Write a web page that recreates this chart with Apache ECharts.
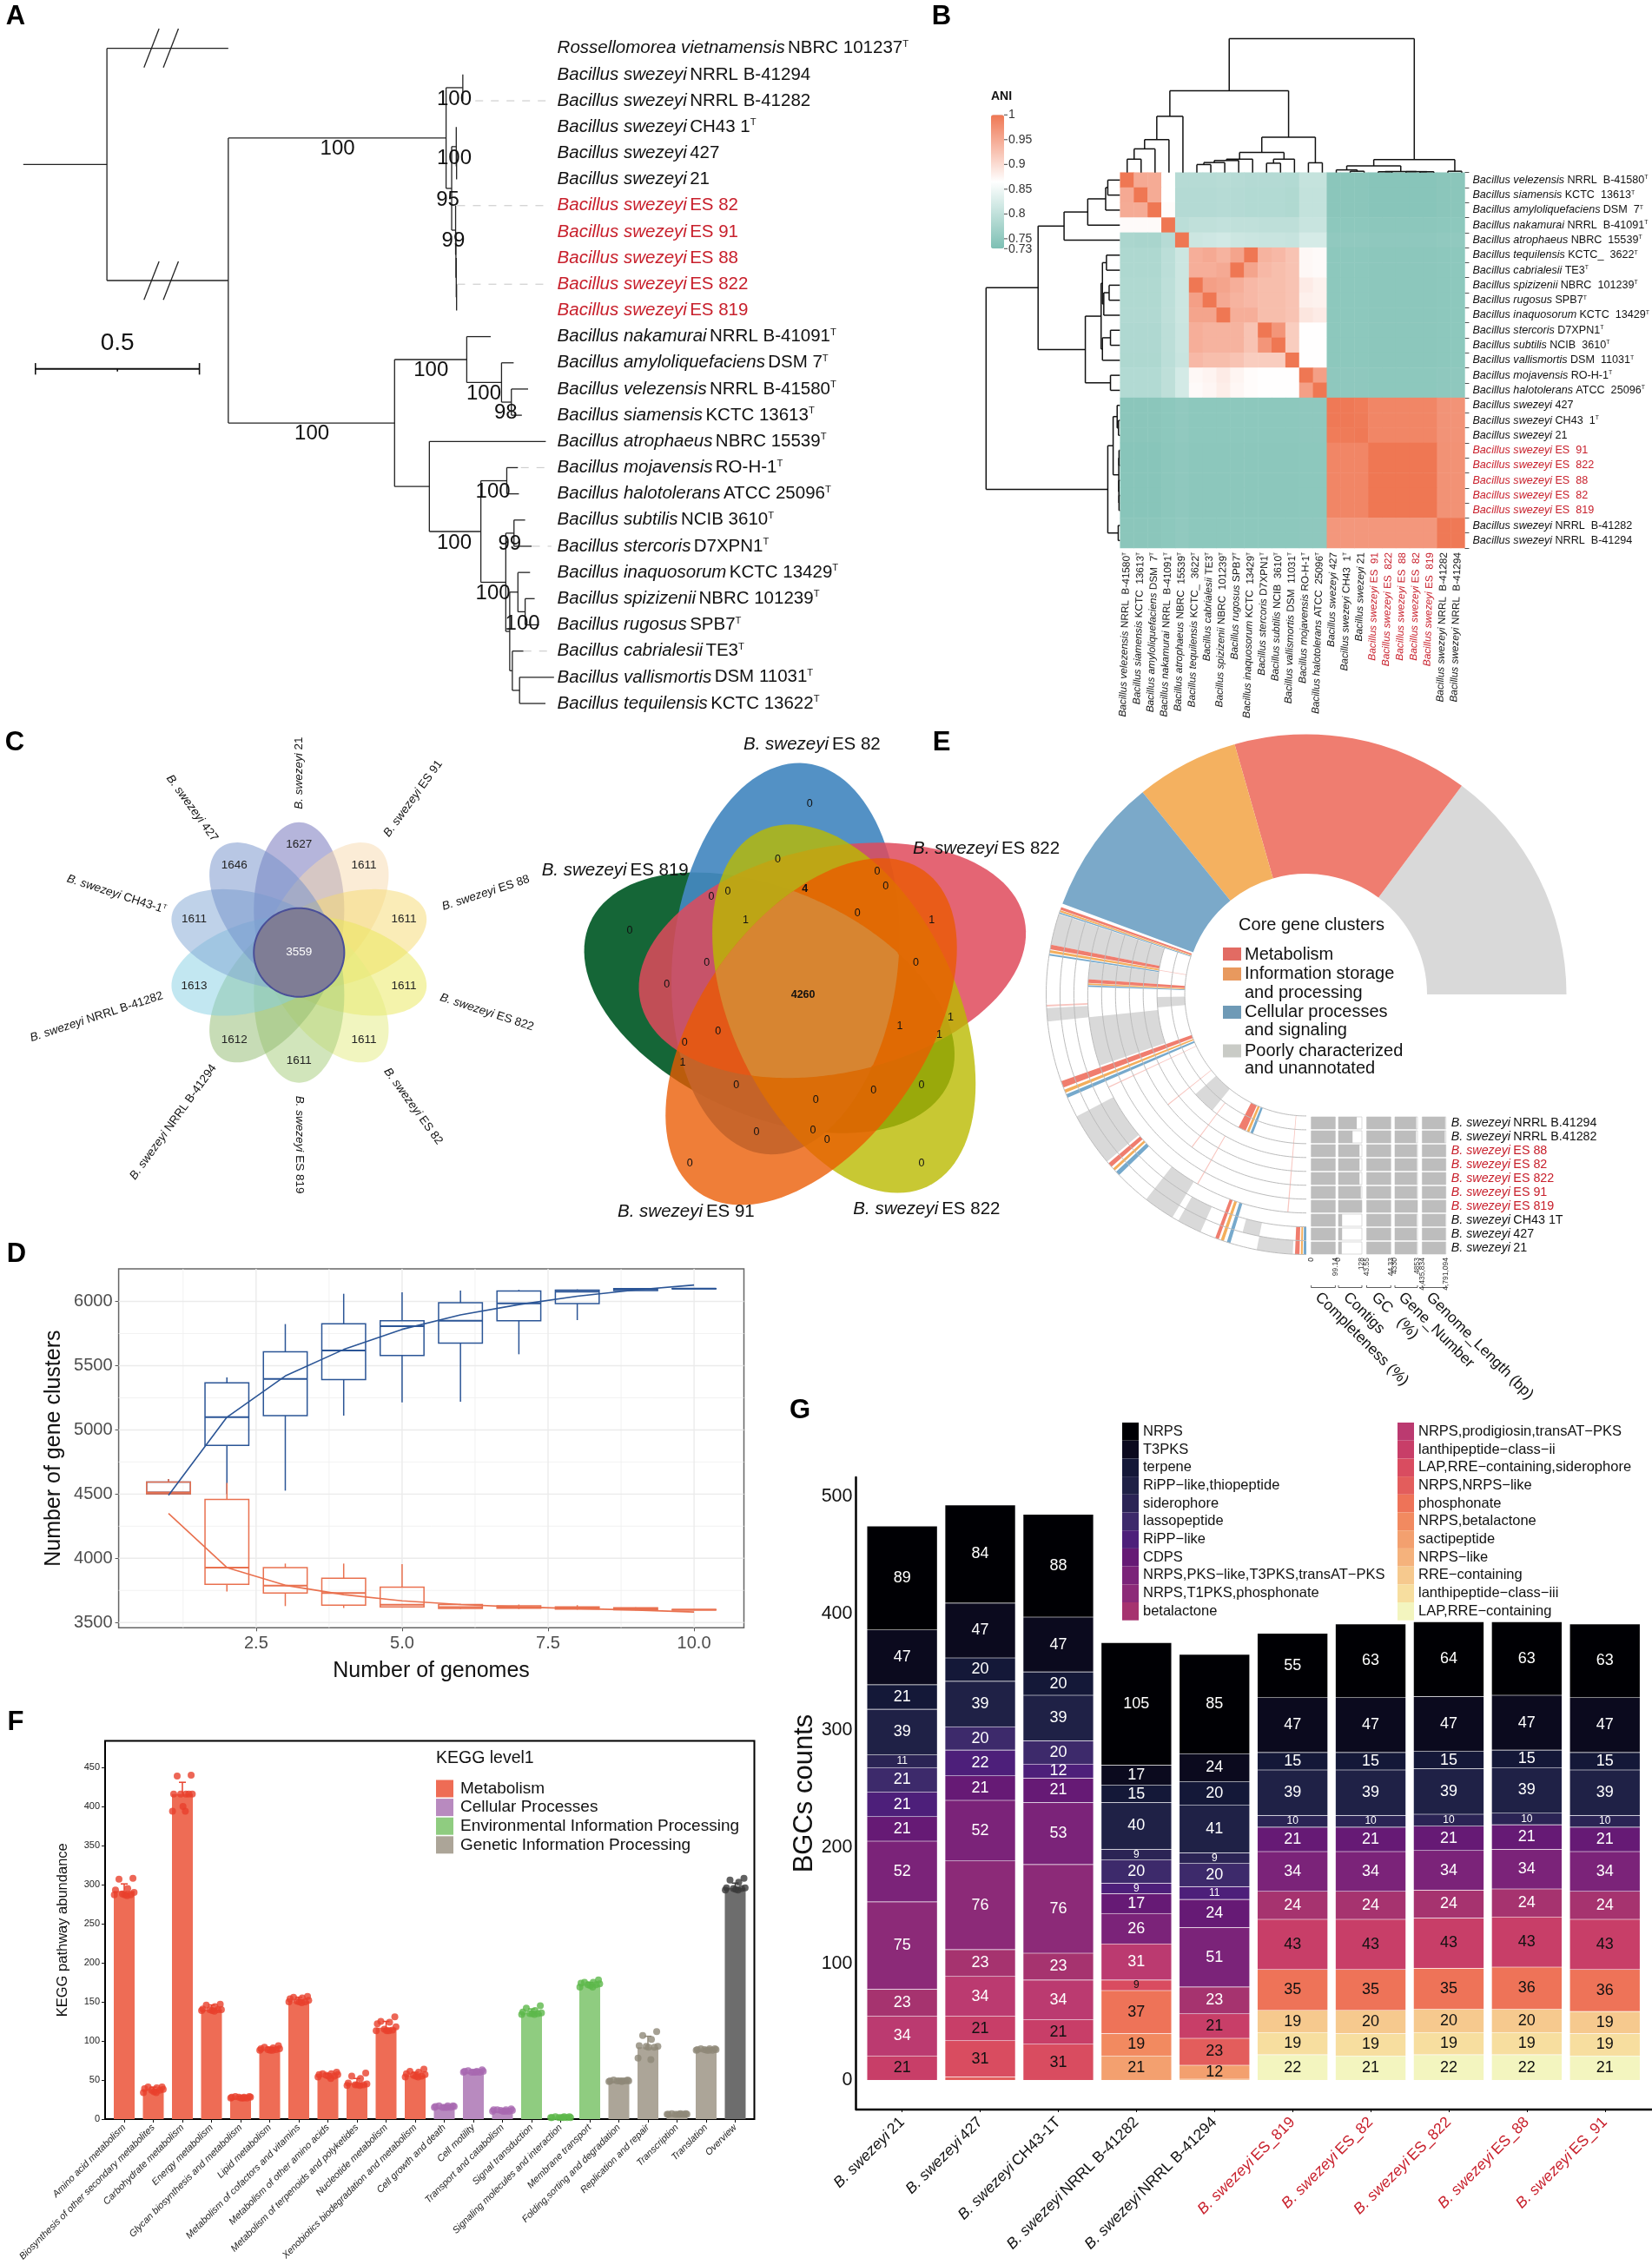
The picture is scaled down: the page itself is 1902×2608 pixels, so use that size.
<!DOCTYPE html>
<html><head><meta charset="utf-8">
<style>html,body{margin:0;padding:0;background:#fff}#c{width:1902px;height:2608px}</style>
<script src="https://cdn.jsdelivr.net/npm/echarts@6/dist/echarts.min.js"></script>
</head><body><div id="c"></div>
<script>
const FONT='Liberation Sans';
/* ---------- A: phylogeny (branch lengths in substitution units) ---------- */
const leafLabels=['Rossellomorea vietnamensis|NBRC 101237|T','Bacillus swezeyi|NRRL B-41294','Bacillus swezeyi|NRRL B-41282','Bacillus swezeyi|CH43 1|T','Bacillus swezeyi|427','Bacillus swezeyi|21','Bacillus swezeyi|ES 82','Bacillus swezeyi|ES 91','Bacillus swezeyi|ES 88','Bacillus swezeyi|ES 822','Bacillus swezeyi|ES 819','Bacillus nakamurai|NRRL B-41091|T','Bacillus amyloliquefaciens|DSM 7|T','Bacillus velezensis|NRRL B-41580|T','Bacillus siamensis|KCTC 13613|T','Bacillus atrophaeus|NBRC 15539|T','Bacillus mojavensis|RO-H-1|T','Bacillus halotolerans|ATCC 25096|T','Bacillus subtilis|NCIB 3610|T','Bacillus stercoris|D7XPN1|T','Bacillus inaquosorum|KCTC 13429|T','Bacillus spizizenii|NBRC 101239|T','Bacillus rugosus|SPB7|T','Bacillus cabrialesii|TE3|T','Bacillus vallismortis|DSM 11031|T','Bacillus tequilensis|KCTC 13622|T'];
const phyloTree=[.255,[.37],[.37,
  [.664,[.051,[0],[0]],[.017,[.014,[0],[.001,[0],[0]]],[.012,[0],[.001,[0],[.001,[0],[.001,[0],[0]]]]]]],
  [.507,
    [.22,[.073],[.106,[.037],[.03,[.051],[.032]]]],
    [.106,[.355],[.157,[.079,[.034],[.037]],[.076,[.025,[.034],[.054]],[.012,[.025,[.037],[.022,[.029],[.042]]],[.008,[.034],[.022,[.105],[.079]]]]]]]
  ]]];
const bootstrap=[['100',1.314,1.94],['100',1.314,4.19],['95',1.294,5.79],['99',1.311,7.35],['100',.958,3.85],['100',1.243,12.29],['100',.88,14.72],['100',1.404,13.19],['98',1.471,13.92],['100',1.432,16.92],['100',1.314,18.87],['99',1.483,18.93],['100',1.432,20.79],['100',1.522,21.95]];
const dashedLeaders=[[2,1.378],[6,1.323],[9,1.323],[16,1.517],[19,1.551],[23,1.525]];
const breakMarks=[[.368,.73,.414,-.75],[.427,.73,.473,-.75],[.368,9.6,.414,8.13],[.427,9.6,.473,8.13]];
/* ---------- B: ANI heatmap ---------- */
const aniNames=['Bacillus velezensis|NRRL  B-41580|T','Bacillus siamensis|KCTC  13613|T','Bacillus amyloliquefaciens|DSM  7|T','Bacillus nakamurai|NRRL  B-41091|T','Bacillus atrophaeus|NBRC  15539|T','Bacillus tequilensis|KCTC_  3622|T','Bacillus cabrialesii|TE3|T','Bacillus spizizenii|NBRC  101239|T','Bacillus rugosus|SPB7|T','Bacillus inaquosorum|KCTC  13429|T','Bacillus stercoris|D7XPN1|T','Bacillus subtilis|NCIB  3610|T','Bacillus vallismortis|DSM  11031|T','Bacillus mojavensis|RO-H-1|T','Bacillus halotolerans|ATCC  25096|T','Bacillus swezeyi|427','Bacillus swezeyi|CH43  1|T','Bacillus swezeyi|21','Bacillus swezeyi|ES  91','Bacillus swezeyi|ES  822','Bacillus swezeyi|ES  88','Bacillus swezeyi|ES  82','Bacillus swezeyi|ES  819','Bacillus swezeyi|NRRL  B-41282','Bacillus swezeyi|NRRL  B-41294'];
const aniRows=[
[1000,950,948,865,790,790,790,792,790,788,788,788,786,805,805,745,745,745,742,742,742,742,742,745,745],
[950,1000,948,865,788,788,788,790,788,786,786,786,784,803,803,745,745,745,742,742,742,742,742,745,745],
[948,948,1000,868,788,788,788,790,788,786,786,786,784,803,803,745,745,745,742,742,742,742,742,745,745],
[870,870,870,1000,795,800,800,802,800,800,798,798,798,808,808,748,748,748,746,746,746,746,746,748,748],
[778,776,776,790,1000,812,815,818,812,810,808,808,806,822,822,752,752,752,750,750,750,750,750,752,752],
[782,782,782,795,812,945,950,940,955,1000,940,935,925,872,870,748,748,748,746,746,746,746,746,748,748],
[782,782,782,795,812,945,945,950,1000,955,935,930,925,872,870,748,748,748,746,746,746,746,746,748,748],
[784,784,784,797,812,1000,960,955,945,935,930,930,925,885,878,748,748,748,746,746,746,746,746,748,748],
[784,784,784,797,812,960,1000,950,940,935,930,930,925,880,878,748,748,748,746,746,746,746,746,748,748],
[785,785,785,798,812,955,955,1000,945,945,930,930,925,890,885,748,748,748,746,746,746,746,746,748,748],
[783,783,783,796,810,945,940,940,940,925,1000,970,915,866,866,748,748,748,746,746,746,746,746,748,748],
[783,783,783,796,810,945,940,940,940,925,970,1000,915,866,866,748,748,748,746,746,746,746,746,748,748],
[782,782,782,795,808,935,930,930,925,915,915,915,1000,866,866,748,748,748,746,746,746,746,746,748,748],
[786,786,786,798,820,872,876,885,875,868,866,866,866,1000,960,750,750,750,748,748,748,748,748,750,750],
[786,786,786,798,820,870,874,882,873,868,866,866,866,960,1000,750,750,750,748,748,748,748,748,750,750],
[745,745,745,748,752,748,748,748,748,748,748,748,748,750,750,998,998,995,985,985,985,985,985,972,972],
[745,745,745,748,752,748,748,748,748,748,748,748,748,750,750,998,998,996,985,985,985,985,985,972,972],
[745,745,745,748,752,748,748,748,748,748,748,748,748,750,750,995,996,998,985,985,985,985,985,972,972],
[742,742,742,746,750,746,746,746,746,746,746,746,746,748,748,985,985,985,1000,1000,1000,1000,1000,973,973],
[742,742,742,746,750,746,746,746,746,746,746,746,746,748,748,985,985,985,1000,1000,1000,1000,1000,973,973],
[742,742,742,746,750,746,746,746,746,746,746,746,746,748,748,985,985,985,1000,1000,1000,1000,1000,973,973],
[742,742,742,746,750,746,746,746,746,746,746,746,746,748,748,985,985,985,1000,1000,1000,1000,1000,973,973],
[742,742,742,746,750,746,746,746,746,746,746,746,746,748,748,985,985,985,1000,1000,1000,1000,1000,973,973],
[745,745,745,748,752,748,748,748,748,748,748,748,748,750,750,968,968,968,968,968,968,968,968,998,998],
[745,745,745,748,752,748,748,748,748,748,748,748,748,750,750,968,968,968,968,968,968,968,968,998,998]];
const colTree=[1,[.611,[.42,[.246,[.177,[.1,0,1],2],3],4],[.264,[.15,[.1,[.09,[.075,[.06,5,6],7],8],9],[.1,[.07,10,11],12]],[.073,13,14]]],[.097,[.05,[.02,15,[.01,16,17]],[.008,[.006,18,19],[.007,20,[.006,21,22]]]],[.01,23,24]]];
const rowTree=[1,[.611,[.417,[.24,[.106,[.09,0,1],2],3],4],[.258,[.14,[.13,[.1,5,6],[.12,[.08,7,8],9]],[.13,[.07,10,11],12]],[.07,13,14]]],[.09,[.05,[.02,15,[.01,16,17]],[.008,[.006,18,19],[.007,20,[.006,21,22]]]],[.012,23,24]]];
const aniTicks=[1,.95,.9,.85,.8,.75,.73];
/* ---------- C: flower + 5-set Venn ---------- */
const petalNames=['21','ES 91','ES 88','ES 822','ES 82','ES 819','NRRL B-41294','NRRL B-41282','CH43-1','427'];
const petalCounts=[1627,1611,1611,1611,1611,1611,1612,1613,1611,1646];
const petalColors=['#6b6bb8','#f8d9ae','#f5da70','#e9e858','#e4ec80','#a3cc78','#8fb96e','#86cfe3','#7fa5d4','#7190ca'];
const petalLabelRadius=[1.66,1.76,1.78,1.79,1.76,1.78,1.94,1.93,1.74,1.65];
const coreCount=3559;
/* [name, fill, direction of the lobe tip (deg), opacity] */
const vennSets=[['ES 819','#156637',156,1],['ES 82','#4488c0',84,.92],['ES 822','#df4a5c',12,.85],['ES 822','#baba00',-65,.8],['ES 91','#ea5a00',-125,.78]];
const vennNames=[['ES 82','#5a96c8',.009,.527],['ES 822','#e2596a',.38,.305],['ES 819','#156637',-.41,.259],['ES 91','#ee7218',-.259,-.468],['ES 822','#c3c32a',.253,-.462]];
const vennCounts=[[0,.004,.40],[0,-.064,.282],[0,.148,.256],[0,.166,.224],[0,-.205,.202],[0,-.17,.213],[4,-.006,.219],[1,-.132,.152],[0,.106,.168],[1,.264,.152],[0,-.379,.13],[0,-.215,.062],[0,.23,.062],[0,-.3,.016],[4260,-.01,-.007],[1,.196,-.074],[1,.304,-.055],[1,.28,-.092],[0,-.191,-.085],[0,-.262,-.109],[1,-.266,-.15],[0,-.152,-.198],[0,.14,-.21],[0,.242,-.198],[0,.017,-.231],[0,-.109,-.299],[0,.011,-.295],[0,.041,-.315],[0,-.251,-.366],[0,.242,-.366]];
/* ---------- E: core gene clusters ---------- */
const coreSectors=[['Poorly characterized',53.3,'#d9d9d9'],['Metabolism',52.7,'#ef7d70'],['Information storage',23,'#f4b160'],['Cellular processes',30.6,'#7ba9c9'],['accessory',200.4,'transparent']];
const ringColors={g:'#d9d9d9',r:'#f07d6e',o:'#f4ae5c',b:'#76a9cc',p:'#f8c6c0'};
const ringSegments=[[160.4,161,'r',0,10],[161.1,161.5,'o',0,10],[161.6,161.9,'b',0,10],[162,169,'g',2,10],[169,170,'r',2,10],[170.2,170.8,'o',2,10],[171,171.4,'b',2,10],[171.5,176,'g',2,7],[176,177,'r',0,7],[177.1,177.5,'o',0,7],[177.6,178,'b',0,7],[181,185,'g',0,2],[183,186,'g',7,10],[182.3,182.7,'p',7,10],[186,199,'g',2,7],[199.5,201,'r',0,10],[201.5,202.2,'o',0,10],[202.6,203.4,'b',0,10],[208,220,'g',7,10],[220.5,221.5,'r',7,10],[222,222.6,'o',7,10],[223,224,'b',7,10],[222,231,'g',0,2],[243,246,'r',0,2],[246.5,247.5,'o',0,2],[248,249,'b',0,2],[232,239,'g',7,10],[240.5,246,'g',8,10],[249.5,250.3,'r',7,10],[250.8,251.5,'o',7,10],[252.2,253,'b',7,10],[255,259,'g',8,9],[259,267,'g',9,10],[267.5,268.5,'r',8,10],[268.8,269.2,'o',8,10],[269.4,270,'b',8,10],[218.4,218.7,'p',0,4],[233,233.3,'p',1,5],[265,265.3,'p',0,7],[240,240.3,'p',3,7],[170.5,170.8,'p',0,2],[205,205.3,'p',0,7]];
const genomeRows=['B. swezeyi|NRRL B.41294','B. swezeyi|NRRL B.41282','B. swezeyi|ES 88','B. swezeyi|ES 82','B. swezeyi|ES 822','B. swezeyi|ES 91','B. swezeyi|ES 819','B. swezeyi|CH43 1T','B. swezeyi|427','B. swezeyi|21'];
const completeness=[99.14,99.14,99.14,99.14,99.14,99.14,99.14,99.14,99.14,99.14];
const contigs=[100,77,115,115,115,122,128,20,20,18];
const gcPercent=[44.33,44.33,44.33,44.33,44.33,44.33,44.33,44.33,44.33,44.33];
const geneNumber=[4825,4820,4840,4840,4840,4842,4853,4835,4835,4840];
const genomeLength=[4780000,4775000,4791094,4791094,4791094,4791094,4791094,4785000,4788000,4788000];
const tableColumns=[['Completeness (%)',completeness,0,99.14,'0','99.14',1509.6,27.8,1517],['Contigs',contigs,0,128,'0','128',1541,27,1549.4],['GC   (%)',gcPercent,43.55,44.33,'43.55','44.33',1573.5,27.8,1582],['Gene_Number',geneNumber,4330,4853,'4330','4853',1606,26,1613],['Genome_Length (bp)',genomeLength,4435834,4791094,'4,435,834','4,791,094',1637.4,27.3,1645]];
/* ---------- D: pan/core ---------- */
const genomeCounts=[1,2,3,4,5,6,7,8,9,10];
const panBoxes=[[1,4500,4502,4512,4594,4618],[2,4500,4879,5099,5367,5408],[3,4527,5111,5396,5609,5824],[4,5111,5391,5618,5826,6060],[5,5215,5580,5807,5850,6072],[6,5220,5676,5850,5990,6085],[7,5589,5850,5986,6082,6090],[8,5855,5983,6077,6089,6094],[9,6085,6085,6095,6100,6102],[10,6098,6098,6100,6100,6102]];
const coreBoxes=[[1,4500,4502,4512,4594,4618],[2,3742,3797,3928,4459,4587],[3,3628,3729,3787,3928,3959],[4,3613,3635,3729,3845,3959],[5,3615,3621,3638,3775,3954],[6,3605,3610,3620,3640,3645],[7,3605,3612,3620,3630,3640],[8,3600,3605,3610,3622,3635],[9,3595,3600,3605,3615,3618],[10,3598,3598,3600,3601,3602]];
const panCurve=[4490,5099,5420,5626,5783,5896,5976,6041,6090,6128];
const coreCurve=[4350,3928,3790,3717,3669,3640,3621,3609,3597,3582];
/* ---------- F: KEGG ---------- */
const keggPathways=['Amino acid metabolism','Biosynthesis of other secondary metabolites','Carbohydrate metabolism','Energy metabolism','Glycan biosynthesis and metabolism','Lipid metabolism','Metabolism of cofactors and vitamins','Metabolism of other amino acids','Metabolism of terpenoids and polyketides','Nucleotide metabolism','Xenobiotics biodegradation and metabolism','Cell growth and death','Cell motility','Transport and catabolism','Signal transduction','Signaling molecules and interaction','Membrane transport','Folding,sorting and degradation','Replication and repair','Transcription','Translation','Overview'];
const keggGroup=[0,0,0,0,0,0,0,0,0,0,0,1,1,1,2,2,2,3,3,3,3,4];
const keggMeans=[292,38,416,140,27,89,151,55,46,117,56,15,60,10,136,2,172,49,92,6,89,296];
const keggErrTop=[301,41,431,146,29,92,156,58,52,125,60,17,62,12,141,3,175,50,106,7,90,302];
const keggDots=[[308,307,295,293,290,288,287,287,287,286],[41,41,40,39,38,37,37,35,34,34],[440,439,416,416,416,416,416,400,394,394],[147,146,144,141,140,140,140,139,139,138],[29,29,28,28,28,28,27,27,27,27],[94,92,91,90,90,89,89,88,88,88],[157,156,155,154,152,151,150,150,150,149],[60,58,58,57,57,56,55,55,54,52],[59,55,52,46,45,44,44,44,43,43],[131,125,124,122,118,115,114,113,113,113],[64,61,60,58,57,56,55,55,54,54],[17,17,17,16,16,15,15,15,15,15],[63,62,61,61,61,60,60,60,60,60],[13,12,12,12,11,11,10,10,10,10],[145,142,139,137,136,135,135,135,134,134],[3,3,3,2,2,2,2,2,2,2],[178,175,175,174,173,172,172,171,169,169],[50,50,49,49,49,49,49,49,48,48],[112,107,102,94,93,93,92,92,78,76],[7,7,7,6,6,6,6,6,6,6],[90,90,90,89,89,89,88,88,88,88],[308,306,303,296,296,295,295,294,293,293]];
const dotJitter=[.3,-.18,.12,-.3,.34,-.06,.22,.02,-.34,.1];
const keggGroupNames=['Metabolism','Cellular Processes','Environmental Information Processing','Genetic Information Processing','Overview'];
const keggBarColors=['#ee6c55','#b88abf','#8fcc80','#aca598','#6d6d6d'];
const keggDotColors=['#e8402c','#a868b0','#5cb84a','#8f8878','#3a3a3a'];
/* ---------- G: BGCs ---------- */
const bgcGenomes=['21','427','CH43-1T','NRRL B-41282','NRRL B-41294','ES_819','ES_82','ES_822','ES_88','ES_91'];
const bgcTypes=[
['NRPS','#000004',[89,84,88,105,85,55,63,64,63,63]],
['T3PKS','#0b0a1e',[47,47,47,17,24,47,47,47,47,47]],
['terpene','#141838',[21,20,20,15,20,15,15,15,15,15]],
['RiPP\u2212like,thiopeptide','#1f2146',[39,39,39,40,41,39,39,39,39,39]],
['siderophore','#2b2455',[11,0,0,9,9,10,10,10,10,10]],
['lassopeptide','#3d2a6b',[21,20,20,20,20,0,0,0,0,0]],
['RiPP\u2212like','#4d1f7a',[21,22,12,9,11,0,0,0,0,0]],
['CDPS','#661a75',[21,21,21,17,24,21,21,21,21,21]],
['NRPS,PKS\u2212like,T3PKS,transAT\u2212PKS','#7b2379',[52,52,53,26,51,34,34,34,34,34]],
['NRPS,T1PKS,phosphonate','#8c2a78',[75,76,76,0,0,0,0,0,0,0]],
['betalactone','#a6336f',[23,23,23,0,23,24,24,24,24,24]],
['NRPS,prodigiosin,transAT\u2212PKS','#bb3a70',[34,34,34,31,0,0,0,0,0,0]],
['lanthipeptide\u2212class\u2212ii','#c83e68',[21,21,21,0,21,43,43,43,43,43]],
['LAP,RRE\u2212containing,siderophore','#d94c60',[0,31,31,9,0,0,0,0,0,0]],
['NRPS,NRPS\u2212like','#e35d5c',[0,3,0,0,23,0,0,0,0,0]],
['phosphonate','#ee7358',[0,0,0,37,0,35,35,35,36,36]],
['NRPS,betalactone','#f28a60',[0,0,0,19,0,0,0,0,0,0]],
['sactipeptide','#f3a06f',[0,0,0,21,12,0,0,0,0,0]],
['NRPS\u2212like','#f5b27c',[0,0,0,0,1,0,0,0,0,0]],
['RRE\u2212containing','#f6c98e',[0,0,0,0,0,19,20,20,20,19]],
['lanthipeptide\u2212class\u2212iii','#f7de9f',[0,0,0,0,0,19,19,19,19,19]],
['LAP,RRE\u2212containing','#f3f5bf',[0,0,0,0,0,22,21,22,22,21]]];
const RED='#c8202c';

/* ---------- helpers ---------- */
function richFor(size,opts){opts=opts||{};const c=opts.color||'#111';const base={fontFamily:FONT,fontSize:size};
 return {i:{...base,fontStyle:'italic',color:c},n:{...base,color:c},
  ri:{...base,fontStyle:'italic',color:RED},rn:{...base,color:RED},
  s:{fontFamily:FONT,fontSize:size*.55,color:c,verticalAlign:'top'}};}
function fmt(str){const p=str.split('|');const red=/ES/.test(p[1]);
 return (red?`{ri|${p[0]}} {rn|${p[1]}}`:`{i|${p[0]}} {n|${p[1]}}`)+(p[2]?`{s|${p[2]}}`:'');}
const grids=[],xAxes=[],yAxes=[],series=[];
function addGrid(l,t,w,h,extra){grids.push({left:l,top:t,width:w,height:h,containLabel:false,...(extra||{})});return grids.length-1;}
function hid(g,min,max,inv){return {type:'value',gridIndex:g,min,max,inverse:!!inv,show:false,splitLine:{show:false},axisLine:{show:false,onZero:false},axisTick:{show:false},axisLabel:{show:false}};}
function custom(g,n,fn,z){const s={type:'custom',silent:true,clip:false,z:z||2,animation:false,data:Array.from({length:n},()=>[0,0]),renderItem:(p,api)=>fn(p.dataIndex,api)};
 if(g==='polar'){s.coordinateSystem='polar';}else{s.xAxisIndex=g;s.yAxisIndex=g;}series.push(s);return s;}
function lineEl(a,b,c,w,dash){return {type:'line',shape:{x1:a[0],y1:a[1],x2:b[0],y2:b[1]},style:{stroke:c,lineWidth:w,lineDash:dash||null}};}
function txt(x,y,text,o){o=o||{};return {type:'text',x,y,rotation:o.rot||0,style:{text,fill:o.color||'#111',fontFamily:FONT,fontSize:o.size||14,fontWeight:o.weight||'normal',fontStyle:o.style||'normal',align:o.align||'center',verticalAlign:'middle',rich:o.rich}};}

/* ---------- A ---------- */
const gA=addGrid(26.8,55.7,611.8,754.3);
xAxes.push(hid(gA,0,1.62));
yAxes.push({type:'value',gridIndex:gA,min:0,max:25,interval:1,inverse:true,position:'right',axisLine:{show:false,onZero:false},axisTick:{show:false},splitLine:{show:false},
 axisLabel:{margin:3,formatter:v=>fmt(leafLabels[v]),rich:richFor(20.5),hideOverlap:false,showMinLabel:true,showMaxLabel:true}});
const treeSegs=[];let leafCounter=0;
function layoutPhylo(node,x0){const x=x0+node[0];const kids=node.slice(1);let y;
 if(!kids.length){y=leafCounter++;}else{const ys=kids.map(k=>layoutPhylo(k,x));y=(ys[0]+ys[ys.length-1])/2;treeSegs.push([x,ys[0],x,ys[ys.length-1]]);}
 treeSegs.push([x0,y,x,y]);return y;}
layoutPhylo(phyloTree,0);
custom(gA,treeSegs.length,(i,api)=>{const s=treeSegs[i];return lineEl(api.coord([s[0],s[1]]),api.coord([s[2],s[3]]),'#222',1.3);});
custom(gA,dashedLeaders.length,(i,api)=>{const d=dashedLeaders[i];return lineEl(api.coord([d[1],d[0]]),api.coord([1.61,d[0]]),'#cfcfcf',1.2,[9,9]);});
custom(gA,breakMarks.length,(i,api)=>{const d=breakMarks[i];return lineEl(api.coord([d[0],d[1]]),api.coord([d[2],d[3]]),'#222',1.3);});
custom(gA,bootstrap.length,(i,api)=>{const b=bootstrap[i],p=api.coord([b[1],b[2]]);return txt(p[0],p[1],b[0],{size:24,color:'#111'});},5);
custom(gA,4,(i,api)=>{const y=12.23;
 if(i==0)return lineEl(api.coord([.037,y]),api.coord([.537,y]),'#111',2);
 const x=[.037,.287,.537][i-1];const h=i==2?.1:.22;return lineEl(api.coord([x,y-(i==2?0:h)]),api.coord([x,y+h]),'#111',1.6);});
custom(gA,1,(i,api)=>{const p=api.coord([.287,11.24]);return txt(p[0],p[1],'0.5',{size:28});},5);

/* ---------- B ---------- */
const gH=addGrid(1289.7,198.7,401.3,432.3);
xAxes.push({type:'category',gridIndex:gH,data:aniNames,axisLine:{show:false,onZero:false},axisTick:{show:false},splitLine:{show:false},
 axisLabel:{interval:0,rotate:88.5,margin:5,formatter:fmt,rich:richFor(11.8)}});
yAxes.push({type:'category',gridIndex:gH,data:aniNames,inverse:true,position:'right',axisLine:{show:false,onZero:false},axisTick:{show:true,length:5,lineStyle:{color:'#222',width:.8}},splitLine:{show:false},
 axisLabel:{interval:0,margin:9,formatter:fmt,rich:richFor(12.6)}});
const heatData=[];aniRows.forEach((r,ri)=>r.forEach((v,ci)=>heatData.push([ci,ri,v/1000])));
const heatIdx=series.length;
series.push({type:'heatmap',xAxisIndex:gH,yAxisIndex:gH,data:heatData,silent:true,progressive:0,itemStyle:{borderWidth:0},animation:false});
function dendro(tree){let segs=[];
 (function rec(n){if(typeof n==='number')return [n+.5,0];const a=rec(n[1]),b=rec(n[2]),h=n[0];
  segs.push([a[0],h,b[0],h],[a[0],a[1],a[0],h],[b[0],b[1],b[0],h]);return [(a[0]+b[0])/2,h];})(tree);
 return segs;}
const gDT=addGrid(1289.7,44.5,401.3,154.2);xAxes.push(hid(gDT,0,25));yAxes.push(hid(gDT,0,1));
const topSegs=dendro(colTree);
custom(gDT,topSegs.length,(i,api)=>{const s=topSegs[i];return lineEl(api.coord([s[0],s[1]]),api.coord([s[2],s[3]]),'#111',1.5);});
const gDL=addGrid(1135.3,198.7,154,432.3);xAxes.push(hid(gDL,0,1,true));yAxes.push(hid(gDL,0,25,true));
const leftSegs=dendro(rowTree);
custom(gDL,leftSegs.length,(i,api)=>{const s=leftSegs[i];return lineEl(api.coord([s[1],s[0]]),api.coord([s[3],s[2]]),'#111',1.5);});

/* ---------- C flower ---------- */
const gFl=addGrid(103,860.3,482.6,472.8);xAxes.push(hid(gFl,-1.9,1.9));yAxes.push(hid(gFl,-1.9,1.9));
function ellipsePoly(api,cx,cy,a,b,rotDeg){const r=rotDeg*Math.PI/180,pts=[];for(let k=0;k<120;k++){const t=k/120*2*Math.PI,u=a*Math.cos(t),v=b*Math.sin(t);
  pts.push(api.coord([cx+u*Math.cos(r)-v*Math.sin(r),cy+u*Math.sin(r)+v*Math.cos(r)]));}return pts;}
custom(gFl,petalColors.length,(i,api)=>{const al=i*36*Math.PI/180;
 return {type:'polygon',shape:{points:ellipsePoly(api,.395*Math.sin(al),.395*Math.cos(al),.81,.41,90-i*36)},style:{fill:petalColors[i],opacity:.5}};});
custom(gFl,1,(i,api)=>({type:'polygon',shape:{points:ellipsePoly(api,0,0,.41,.41,0)},style:{fill:'#7f7d95',stroke:'#4a4f98',lineWidth:2}}));
custom(gFl,1,(i,api)=>{const p=api.coord([0,0]);return txt(p[0],p[1],String(coreCount),{size:13.5,color:'#fff'});},5);
custom(gFl,petalCounts.length,(i,api)=>{const al=i*36*Math.PI/180,p=api.coord([Math.sin(al),Math.cos(al)]);return txt(p[0],p[1],String(petalCounts[i]),{size:13.5,color:'#222'});},5);
custom(gFl,petalNames.length,(i,api)=>{const d=i*36,al=d*Math.PI/180,r=petalLabelRadius[i],p=api.coord([r*Math.sin(al),r*Math.cos(al)]);
 const rot=(d<=180?90-d:270-d)*Math.PI/180;
 const t=petalNames[i]==='CH43-1'?'{i|B. swezeyi} {n|CH43-1}{s|T}':`{i|B. swezeyi} {n|${petalNames[i]}}`;
 return txt(p[0],p[1],t,{rot,rich:richFor(13.5,{color:'#222'})});},5);

/* ---------- C venn ---------- */
const VA=.418,VB=.24,VD=.085;
const gV=addGrid(605.4,817.4,649.2,649.2);xAxes.push(hid(gV,-.6,.6));yAxes.push(hid(gV,-.6,.6));
custom(gV,vennSets.length,(i,api)=>{const s=vennSets[i],t=(s[2]+40)*Math.PI/180;
 return {type:'polygon',shape:{points:ellipsePoly(api,VD*Math.cos(t),VD*Math.sin(t),VA,VB,s[2])},style:{fill:s[1],opacity:s[3]}};});
/* the region shared by all five sets: nearest ellipse exit along each ray from the centre */
function rayExit(phi,s){const t=(s[2]+40)*Math.PI/180,r=s[2]*Math.PI/180,dx=Math.cos(phi),dy=Math.sin(phi),cx=VD*Math.cos(t),cy=VD*Math.sin(t);
 const du=(dx*Math.cos(r)+dy*Math.sin(r))/VA,dv=(-dx*Math.sin(r)+dy*Math.cos(r))/VB,ou=(-cx*Math.cos(r)-cy*Math.sin(r))/VA,ov=(cx*Math.sin(r)-cy*Math.cos(r))/VB;
 const A=du*du+dv*dv,B=2*(du*ou+dv*ov),C=ou*ou+ov*ov-1;return (-B+Math.sqrt(B*B-4*A*C))/(2*A);}
custom(gV,1,(i,api)=>{const pts=[];for(let k=0;k<180;k++){const p=k/180*2*Math.PI,d=Math.min(...vennSets.map(s=>rayExit(p,s)));pts.push(api.coord([d*Math.cos(p),d*Math.sin(p)]));}
 return {type:'polygon',shape:{points:pts},style:{fill:'#d58a3a',opacity:.85}};});
custom(gV,vennCounts.length,(i,api)=>{const c=vennCounts[i],p=api.coord([c[1],c[2]]);return txt(p[0],p[1],String(c[0]),{size:12.5,color:'#111',weight:c[0]>3?'bold':'normal'});},5);
custom(gV,vennNames.length,(i,api)=>{const c=vennNames[i],p=api.coord([c[2],c[3]]);return txt(p[0],p[1],`{i|B. swezeyi} {n|${c[0]}}`,{rich:richFor(20.5,{color:c[1]})});},5);

/* ---------- E ---------- */
series.push({type:'pie',center:[1504,1145],radius:[139,299.5],startAngle:0,clockwise:false,silent:true,animation:false,label:{show:false},labelLine:{show:false},minAngle:0,
 data:coreSectors.map(s=>({name:s[0],value:s[1],itemStyle:{color:s[2]}}))});
const polarCfg={center:[1504,1145],radius:[0,299.5]};
const radiusAxis={type:'value',min:-8.77,max:10,show:false};
const angleAxis={type:'value',min:0,max:360,startAngle:0,clockwise:false,show:false};
function arcPoints(api,r,a0,a1){const pts=[],n=Math.max(2,Math.ceil(Math.abs(a1-a0)));for(let k=0;k<=n;k++)pts.push(api.coord([r,a0+(a1-a0)*k/n]));return pts;}
custom('polar',ringSegments.length,(i,api)=>{const s=ringSegments[i];
 const pts=arcPoints(api,s[3],s[0],s[1]).concat(arcPoints(api,s[4],s[1],s[0]));
 return {type:'polygon',shape:{points:pts},style:{fill:ringColors[s[2]]}};});
custom('polar',11,(i,api)=>({type:'polyline',shape:{points:arcPoints(api,i,161,270)},style:{stroke:'#bcbcbc',lineWidth:1,fill:null}}));
tableColumns.forEach((c,ci)=>{
 const g=addGrid(c[6],1285,c[7],160);
 xAxes.push({type:'value',gridIndex:g,min:c[2],max:c[3],splitLine:{show:false},axisLine:{show:false,onZero:false},axisTick:{show:false},
  axisLabel:{customValues:[c[2],c[3]],rotate:90,fontSize:8.5,margin:3,color:'#333',hideOverlap:false,formatter:v=>v===c[2]?c[4]:c[5]}});
 yAxes.push({type:'category',gridIndex:g,data:genomeRows,inverse:true,position:'right',axisLine:{show:false,onZero:false},axisTick:{show:false},splitLine:{show:false},
  axisLabel:ci===4?{interval:0,margin:6,formatter:fmt,rich:richFor(14.3)}:{show:false}});
 series.push({type:'bar',xAxisIndex:g,yAxisIndex:g,data:c[1],barWidth:14,silent:true,animation:false,itemStyle:{color:'#bdbdbd'},showBackground:true,backgroundStyle:{color:'#fff',borderColor:'#c4c4c4',borderWidth:.6}});
});

/* ---------- D ---------- */
const gD=addGrid(136.6,1461,719.9,413.3,{show:true,borderColor:'#666',borderWidth:1.5,backgroundColor:'#fff'});
const gridMajorX=[2.5,5,7.5,10],gridMinorX=[1.25,3.75,6.25,8.75],gridMajorY=[3500,4000,4500,5000,5500,6000],gridMinorY=[3750,4250,4750,5250,5750];
xAxes.push({type:'value',gridIndex:gD,min:.146,max:10.854,splitLine:{show:false},axisLine:{show:false,onZero:false},axisTick:{show:true,customValues:gridMajorX,length:4,lineStyle:{color:'#555'}},
 axisLabel:{customValues:gridMajorX,formatter:v=>v.toFixed(1),fontSize:20,color:'#4d4d4d',margin:8},
 name:'Number of genomes',nameLocation:'middle',nameGap:37,nameTextStyle:{fontSize:25,color:'#111'}});
yAxes.push({type:'value',gridIndex:gD,min:3459,max:6254,splitLine:{show:false},axisLine:{show:false,onZero:false},axisTick:{show:true,customValues:gridMajorY,length:4,lineStyle:{color:'#555'}},
 axisLabel:{customValues:gridMajorY,formatter:v=>String(v),fontSize:20,color:'#4d4d4d',margin:7},
 name:'Number of gene clusters',nameLocation:'middle',nameGap:62,nameTextStyle:{fontSize:25,color:'#111'}});
const gridLines=[...gridMinorX.map(v=>['x',v,.9,'#f1f1f1']),...gridMinorY.map(v=>['y',v,.9,'#f1f1f1']),...gridMajorX.map(v=>['x',v,1.4,'#ebebeb']),...gridMajorY.map(v=>['y',v,1.4,'#ebebeb'])];
custom(gD,gridLines.length,(i,api)=>{const g=gridLines[i];
 return g[0]==='x'?lineEl(api.coord([g[1],3459]),api.coord([g[1],6254]),g[3],g[2]):lineEl(api.coord([.146,g[1]]),api.coord([10.854,g[1]]),g[3],g[2]);},1);
function boxSeries(boxes,color){custom(gD,boxes.length,(i,api)=>{const b=boxes[i],x=b[0],w=.375;
 const tl=api.coord([x-w,b[4]]),br=api.coord([x+w,b[2]]),st={stroke:color,lineWidth:1.5,fill:null};
 return {type:'group',children:[
  lineEl(api.coord([x,b[1]]),api.coord([x,b[2]]),color,1.5),lineEl(api.coord([x,b[4]]),api.coord([x,b[5]]),color,1.5),
  {type:'rect',shape:{x:tl[0],y:tl[1],width:br[0]-tl[0],height:br[1]-tl[1]},style:st},
  lineEl(api.coord([x-w,b[3]]),api.coord([x+w,b[3]]),color,2)]};},3);}
boxSeries(panBoxes,'#2b5596');boxSeries(coreBoxes,'#e9714f');
series.push({type:'line',xAxisIndex:gD,yAxisIndex:gD,data:genomeCounts.map((n,i)=>[n,panCurve[i]]),showSymbol:false,lineStyle:{color:'#2b5596',width:1.6},silent:true,z:4,animation:false});
series.push({type:'line',xAxisIndex:gD,yAxisIndex:gD,data:genomeCounts.map((n,i)=>[n,coreCurve[i]]),showSymbol:false,lineStyle:{color:'#e9714f',width:1.6},silent:true,z:4,animation:false});

/* ---------- F ---------- */
const gK=addGrid(121,2004.5,747.5,435.5,{show:true,borderColor:'#000',borderWidth:2});
const kIdx=keggPathways.map((_,i)=>i);
xAxes.push({type:'value',gridIndex:gK,min:-.657,max:21.657,splitLine:{show:false},axisLine:{show:false,onZero:false},axisTick:{show:true,customValues:kIdx,length:4,lineStyle:{color:'#111'}},
 axisLabel:{customValues:kIdx,rotate:45,fontSize:11,fontStyle:'italic',color:'#222',margin:8,hideOverlap:false,formatter:v=>keggPathways[v]}});
const kTicks=[0,50,100,150,200,250,300,350,400,450];
yAxes.push({type:'value',gridIndex:gK,min:0,max:484,splitLine:{show:false},axisLine:{show:false,onZero:false},axisTick:{show:true,customValues:kTicks,length:4,lineStyle:{color:'#111'}},
 axisLabel:{customValues:kTicks,fontSize:11,color:'#222',margin:6},
 name:'KEGG pathway abundance',nameLocation:'middle',nameGap:40,nameTextStyle:{fontSize:16.5,color:'#111'}});
keggGroupNames.forEach((nm,g)=>{series.push({type:'bar',name:nm,xAxisIndex:gK,yAxisIndex:gK,barWidth:24,barGap:'-100%',silent:true,animation:false,itemStyle:{color:keggBarColors[g]},
 data:keggMeans.map((v,i)=>keggGroup[i]===g?[i,v]:null).filter(Boolean)});});
custom(gK,keggMeans.length,(i,api)=>{const c=keggDotColors[keggGroup[i]];const t=api.coord([i,keggErrTop[i]]),b=api.coord([i,keggMeans[i]]);
 return {type:'group',children:[lineEl(b,t,c,1.5),lineEl([t[0]-4,t[1]],[t[0]+4,t[1]],c,1.5)]};},3);
series.push({type:'scatter',xAxisIndex:gK,yAxisIndex:gK,symbolSize:8,silent:true,animation:false,z:4,
 data:keggDots.flatMap((vals,i)=>vals.map((v,k)=>({value:[i+dotJitter[k],v],itemStyle:{color:keggDotColors[keggGroup[i]]}})))});

/* ---------- G ---------- */
const gB=addGrid(993.7,1701,899,728);
const bTicks=[0,100,200,300,400,500];
xAxes.push({type:'category',gridIndex:gB,data:bgcGenomes,splitLine:{show:false},axisLine:{show:false,onZero:false},axisTick:{show:true,alignWithLabel:true,length:3,lineStyle:{color:'#000'}},
 axisLabel:{interval:0,rotate:45,margin:12,hideOverlap:false,formatter:v=>fmt('B. swezeyi|'+v),rich:richFor(17.6)}});
yAxes.push({type:'value',gridIndex:gB,min:-25,max:516.8,offset:8.2,splitLine:{show:false},axisLine:{show:true,onZero:false,lineStyle:{color:'#000',width:2.5}},axisTick:{show:false},
 axisLabel:{customValues:bTicks,fontSize:21.5,color:'#111',margin:4},
 name:'BGCs counts',nameLocation:'middle',nameGap:44,nameTextStyle:{fontSize:31,color:'#111'}});
[...bgcTypes].reverse().forEach((t,ri)=>{const dark=ri>=10;
 series.push({type:'bar',name:t[0],xAxisIndex:gB,yAxisIndex:gB,stack:'bgc',barWidth:81,silent:true,animation:false,
  itemStyle:{color:t[1],borderColor:'rgba(255,255,255,.1)',borderWidth:.6},
  data:t[2].map(v=>({value:v>0?v:null,label:{show:v>=9,fontSize:v<=11?12:18,color:dark?'#fff':'#111'}})),
  label:{show:true,position:'inside',fontFamily:FONT,formatter:p=>p.value}});});

/* ---------- static text ---------- */
const panelLetters=[['A',18,19],['B',1084,19],['C',17,855],['E',1084,855],['D',19,1444],['F',18,1983],['G',921,1624]];
const g=[];
panelLetters.forEach(p=>g.push({type:'text',x:p[1],y:p[2],style:{text:p[0],fontFamily:FONT,fontSize:31,fontWeight:'bold',fill:'#000',align:'center',verticalAlign:'middle'}}));
function gt(x,y,text,size,o){o=o||{};g.push({type:'text',x,y,rotation:o.rot||0,style:{text,fontFamily:FONT,fontSize:size,fill:o.color||'#111',fontWeight:o.weight||'normal',align:o.align||'left',verticalAlign:'middle'}});}
gt(1141,111.4,'ANI',14,{weight:'bold'});
aniTicks.forEach(v=>{const y=132.3+(1-v)/.27*154;g.push({type:'line',shape:{x1:1156,y1:y,x2:1160,y2:y},style:{stroke:'#444',lineWidth:1}});gt(1161,v===.73?y+1:y,String(v),14,{color:'#333'});});
gt(1510,1065,'Core gene clusters',20,{align:'center'});
[['Metabolism',1099],['Information storage',1121.5],['and processing',1143],['Cellular processes',1165],['and signaling',1186.5],['Poorly characterized',1210],['and unannotated',1230]].forEach(l=>gt(1433,l[1],l[0],20));
[['#e26b63',1091],['#e8995e',1114],['#6f9ab6',1158],['#c9cbc6',1202.5]].forEach(s=>g.push({type:'rect',shape:{x:1408,y:s[1],width:21,height:15},style:{fill:s[0]}}));
tableColumns.forEach(c=>{const x0=c[6],x1=c[6]+c[7];
 g.push({type:'polyline',shape:{points:[[x0,1480],[x0,1482.5],[x1,1482.5],[x1,1480]]},style:{stroke:'#333',lineWidth:.8,fill:null}});
 gt(c[8],1491,c[0],17.5,{rot:-Math.PI/4});});
gt(502,2025,'KEGG level1',19.5);
g.push({type:'line',shape:{x1:985.5,y1:2429,x2:1902,y2:2429},style:{stroke:'#000',lineWidth:2.5}});

const option={animation:false,backgroundColor:'#fff',textStyle:{fontFamily:FONT},
 grid:grids,xAxis:xAxes,yAxis:yAxes,series,graphic:{elements:g},polar:polarCfg,radiusAxis,angleAxis,
 visualMap:[{type:'continuous',min:.73,max:1,seriesIndex:heatIdx,left:1141,top:132.3,padding:0,itemWidth:15,itemHeight:154,calculable:false,hoverLink:false,text:null,
  inRange:{color:['#7cbfb3','#ffffff','#ef7753']}}],
 legend:[
  {data:keggGroupNames.slice(0,4),orient:'vertical',left:502,top:2049.5,padding:0,icon:'rect',itemWidth:20,itemHeight:20,itemGap:1.6,selectedMode:false,textStyle:{fontSize:19,color:'#111',padding:[0,0,0,3]}},
  {data:bgcTypes.slice(0,11).map(t=>t[0]),orient:'vertical',left:1292,top:1638,padding:0,icon:'rect',itemWidth:19,itemHeight:20.7,itemGap:0,selectedMode:false,itemStyle:{borderWidth:0},textStyle:{fontSize:16.5,color:'#111',padding:[0,0,0,0]}},
  {data:bgcTypes.slice(11).map(t=>t[0]),orient:'vertical',left:1609,top:1638,padding:0,icon:'rect',itemWidth:19,itemHeight:20.7,itemGap:0,selectedMode:false,itemStyle:{borderWidth:0},textStyle:{fontSize:16.5,color:'#111',padding:[0,0,0,0]}}
 ]};
const chart=echarts.init(document.getElementById('c'),null,{width:1902,height:2608});
chart.setOption(option);
</script></body></html>
